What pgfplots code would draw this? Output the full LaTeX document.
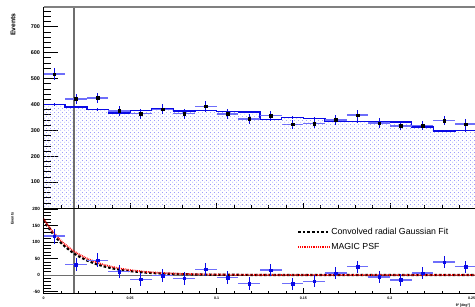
\documentclass[border=0pt]{standalone}
\usepackage{pgfplots}
\pgfplotsset{compat=1.18}
\usepackage{pgfplotstable}
\usepackage{fontspec}
\setmainfont{Liberation Sans}
\usetikzlibrary{patterns.meta}
\definecolor{rootblue}{RGB}{10,10,230}
\definecolor{lightbar}{RGB}{110,110,250}
\definecolor{dotcol}{RGB}{120,120,250}
\definecolor{vgrey}{RGB}{110,110,110}

\pgfdeclarepattern{
  name=rootdots, type=uncolored,
  bottom left={\pgfpoint{0bp}{0bp}}, top right={\pgfpoint{4bp}{4bp}},
  tile size={\pgfpoint{4bp}{4bp}},
  code={
    \pgfpathcircle{\pgfpoint{1bp}{1bp}}{0.55bp}
    \pgfpathcircle{\pgfpoint{3bp}{3bp}}{0.55bp}
    \pgfusepath{fill}
  }
}

\pgfplotstableread{
x xe on one off offe exc
0.00625 0.00625 517 22.7 400 5 118
0.01875 0.00625 421 20.5 390 5 32
0.03125 0.00625 425 20.6 381 5 45
0.04375 0.00625 375 19.4 366 5 10
0.05625 0.00625 364 19.1 377 5 -13
0.06875 0.00625 381 19.5 382 5 -2
0.08125 0.00625 364 19.1 375 5 -10
0.09375 0.00625 393 19.8 377 5 17
0.10625 0.00625 363 19.1 372 5 -8
0.11875 0.00625 344 18.5 371 5 -26
0.13125 0.00625 356 18.9 342 5 15
0.14375 0.00625 323 18.0 350 5 -26
0.15625 0.00625 326 18.1 346 5 -19
0.16875 0.00625 340 18.4 335 5 6
0.18125 0.00625 359 18.9 333 5 25
0.19375 0.00625 328 18.1 334 5 -6
0.20625 0.00625 317 17.8 332 5 -15
0.21875 0.00625 318 17.8 312 5 6
0.23125 0.00625 337 18.4 297 5 39
0.24375 0.00625 324 18.0 300 5 25
}\datatab

\pgfplotstableread{
e off
0 400
0.0125 390
0.025 381
0.0375 366
0.05 377
0.0625 382
0.075 375
0.0875 377
0.1 372
0.1125 371
0.125 342
0.1375 350
0.15 346
0.1625 335
0.175 333
0.1875 334
0.2 332
0.2125 312
0.225 297
0.2375 300
0.25 300
}\steptab

\pgfplotstableread{
x fit
0 167
0.0025 146.2
0.005 128.0
0.0075 112.1
0.01 98.1
0.0125 85.9
0.015 75.2
0.0175 65.8
0.02 57.6
0.025 44.2
0.03 33.9
0.035 25.9
0.04 19.9
0.045 15.2
0.05 11.7
0.06 6.9
0.07 4.0
0.08 2.4
0.09 1.4
0.1 0.8
0.12 0.3
0.15 0.06
0.25 0
}\fittab

\pgfplotstableread{
x psf
0 170
0.0025 150.5
0.005 133.2
0.0075 117.9
0.01 104.4
0.0125 92.4
0.015 81.8
0.0175 72.4
0.02 64.1
0.025 50.2
0.03 39.4
0.035 30.8
0.04 24.2
0.045 18.9
0.05 14.8
0.06 9.1
0.07 5.6
0.08 3.4
0.09 2.1
0.1 1.3
0.12 0.5
0.15 0.1
0.25 0
}\psftab

\pgfplotsset{
  rootstyle/.style={
    scale only axis, width=433.1bp,
    xmin=0, xmax=0.25,
    axis line style={line width=0.7bp},
    tick align=inside, xtick pos=bottom, ytick pos=left,
    every tick/.style={black, line width=0.6bp},
    xtick={0,0.05,0.1,0.15,0.2,0.25},
    minor xtick={0,0.01,...,0.25},
    x tick style={/pgfplots/major tick length=5bp,/pgfplots/minor tick length=2.5bp},
    y tick style={/pgfplots/major tick length=14bp,/pgfplots/minor tick length=7bp},
    clip=true,
  },
  errlight/.style={only marks, mark=*, mark size=0pt, mark options={draw=none, fill=none},
    error bars/.cd, x dir=both, x explicit, error mark=none,
    error bar style={draw=lightbar, line width=1.3bp}},
}

\begin{document}
\begin{tikzpicture}
% ---------------- top panel ----------------
\begin{axis}[rootstyle,
  at={(43.5bp,99bp)}, anchor=south west,
  height=201bp,
  ymin=0, ymax=776,
  xticklabels={},
  ytick={100,200,300,400,500,600,700},
  yticklabels={100,200,300,400,500,600,700},
  minor ytick={0,20,...,780},
  yticklabel style={font=\fontsize{5.5}{6}\selectfont\bfseries},
  ylabel={Events},
  ylabel style={at={(axis description cs:-0.0704,0.985)}, anchor=east, font=\fontsize{6.8}{7}\selectfont\bfseries},
]
\addplot[draw=none, pattern={rootdots}, pattern color=dotcol, const plot] table[x=e, y=off] {\steptab} \closedcycle;
\addplot[vgrey, line width=1.5bp] coordinates {(0.0175,0) (0.0175,776)};
\addplot[rootblue, line width=1.4bp, const plot] table[x=e, y=off] {\steptab};
\addplot[only marks, mark=*, mark size=0pt, mark options={draw=none, fill=none},
  error bars/.cd, y dir=both, y explicit, error mark=none,
  error bar style={draw=rootblue, line width=0.9bp}]
  table[x=x, y=off, y error=offe] {\datatab};
\addplot[errlight] table[x=x, y=on, x error=xe] {\datatab};
\addplot[only marks, mark=square*, mark size=1.3bp, mark options={black},
  error bars/.cd, y dir=both, y explicit, error mark=none,
  error bar style={draw=rootblue, line width=0.9bp}]
  table[x=x, y=on, y error=one] {\datatab};
\draw[gray, line width=1.2bp] (rel axis cs:0,1) -- (rel axis cs:1,1);
\end{axis}
% ---------------- bottom panel ----------------
\begin{axis}[rootstyle,
  at={(43.5bp,14bp)}, anchor=south west,
  height=85bp,
  ymin=-54.5, ymax=203,
  xticklabels={0,0.05,0.1,0.15,0.2,{\llap{0.25\hspace{1.5bp}}}},
  xticklabel style={font=\fontsize{3.6}{4}\selectfont\bfseries},
  ytick={-50,0,50,100,150,200},
  yticklabels={-50,0,50,100,150,200},
  minor ytick={-50,-40,...,200},
  yticklabel style={font=\fontsize{4.6}{5}\selectfont\bfseries},
  ylabel={Events},
  ylabel style={at={(axis description cs:-0.072,0.99)}, anchor=east, font=\fontsize{3.8}{4}\selectfont\bfseries},
  xlabel={θ² [deg²]},
  xlabel style={at={(axis description cs:0.993,-0.145)}, anchor=east, font=\fontsize{3.6}{4}\selectfont\bfseries},
  legend style={at={(axis description cs:0.585,0.629)}, anchor=west, draw=none, fill=none,
    font=\fontsize{8.8}{10}\selectfont, inner sep=0pt, row sep=4pt,
    nodes={inner sep=1pt, text height=7pt, text depth=2pt},
    /tikz/every even column/.append style={column sep=10bp}},
  legend cell align=left,
  legend image code/.code={\draw[#1] (0bp,0bp) -- (31bp,0bp);},
]
\addplot[vgrey, line width=1.0bp, forget plot] coordinates {(0,0) (0.25,0)};
\addplot[vgrey, line width=1.5bp, forget plot] coordinates {(0.0175,-54.5) (0.0175,203)};
\addplot[black, line width=2.2bp, dash pattern=on 2.6bp off 2bp] table[x=x, y=fit] {\fittab};
\addlegendentry{Convolved radial Gaussian Fit}
\addplot[red, line width=1.8bp, dash pattern=on 0.8bp off 1bp] table[x=x, y=psf] {\psftab};
\addlegendentry{MAGIC PSF}
\addplot[forget plot, errlight] table[x=x, y=exc, x error=xe] {\datatab};
\addplot[forget plot, only marks, mark=square*, mark size=1.3bp, mark options={rootblue},
  error bars/.cd, y dir=both, y explicit, error mark=none,
  error bar style={draw=rootblue, line width=0.9bp}]
  table[x=x, y=exc, y error=one] {\datatab};
\draw[black, line width=1.2bp] (rel axis cs:0,1) -- (rel axis cs:1,1);
\end{axis}
\pgfresetboundingbox
\useasboundingbox (0,0) rectangle (475bp,307bp);
\end{tikzpicture}
\end{document}
